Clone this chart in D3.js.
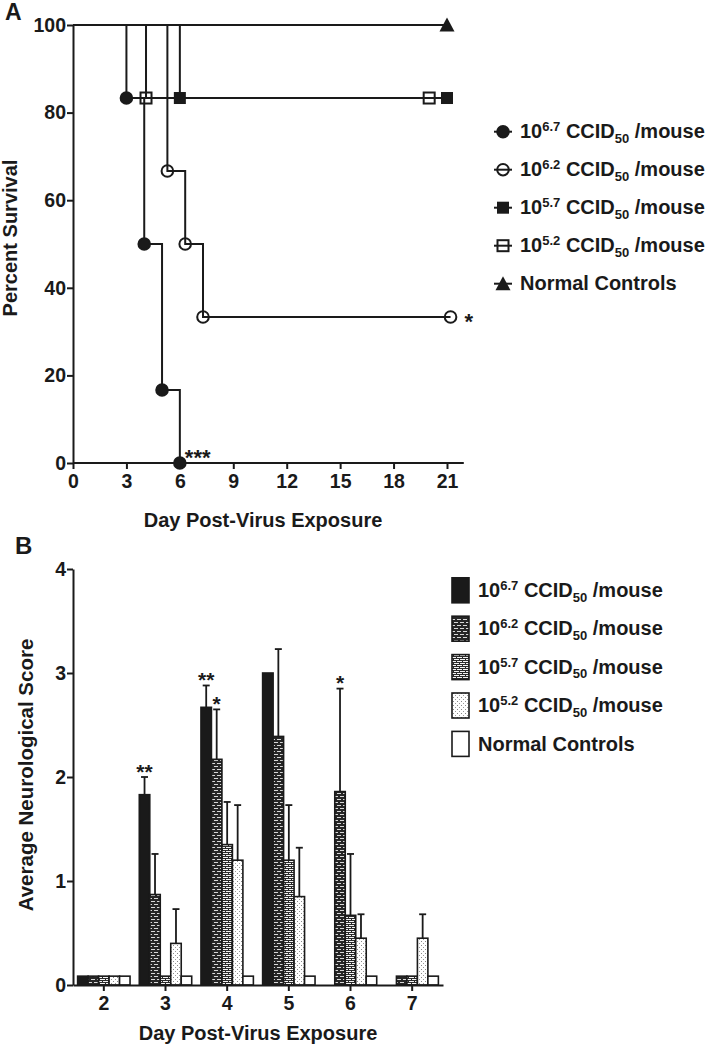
<!DOCTYPE html>
<html><head><meta charset="utf-8">
<script src="https://cdn.jsdelivr.net/npm/d3@7"></script>
<style>
body{margin:0;background:#fff}
svg{display:block}
text{font-family:"Liberation Sans",Arial,Helvetica,sans-serif;font-weight:bold;fill:#1a1a1a}
</style>
</head><body>
<svg id="chart" width="709" height="1050"></svg>
<script>
// ---------- Panel A: survival ----------
const survLabels = ["6.7","6.2","5.7","5.2","Normal Controls"];
const s67Days = [0,3,4,5,6];        const s67Pct = [100,83.33,50,16.67,0];
const s62Days = [0,5.3,6.3,7.3,21.2]; const s62Pct = [100,66.67,50,33.33,33.33];
const s57Days = [0,6,21];           const s57Pct = [100,83.33,83.33];
const s52Days = [0,4.1,20];         const s52Pct = [100,83.33,83.33];
const ctlDays = [0,21];             const ctlPct = [100,100];
const survXTicks = [0,3,6,9,12,15,18,21];
const survYTicks = [0,20,40,60,80,100];

// ---------- Panel B: neurological score ----------
const days = ["2","3","4","5","6","7"];
const barSeries = ["6.7","6.2","5.7","5.2","Normal Controls"];
const mean67 = [0.085,1.83,2.67,3.00,null,null];
const sd67   = [0,0.17,0.21,0,0,0];
const mean62 = [0.085,0.87,2.17,2.39,1.86,0.085];
const sd62   = [0,0.39,0.48,0.84,0.99,0];
const mean57 = [0.085,0.085,1.35,1.20,0.67,0.085];
const sd57   = [0,0,0.41,0.53,0.59,0];
const mean52 = [0.085,0.40,1.20,0.85,0.45,0.45];
const sd52   = [0,0.33,0.53,0.47,0.23,0.23];
const meanCtl= [0.085,0.085,0.085,0.085,0.085,0.085];
const sdCtl  = [0,0,0,0,0,0];
const scoreTicks = [0,1,2,3,4];
// significance marks: [dayIndex, seriesIndex, text]
const sigMarks = [[1,0,"**"],[2,0,"**"],[2,1,"*"],[4,1,"*"]];

const svg = d3.select("#chart");
const ink = "#1a1a1a";

// patterns
const defs = svg.append("defs");
const p62 = defs.append("pattern").attr("id","p62").attr("patternUnits","userSpaceOnUse").attr("width",6).attr("height",6);
p62.append("rect").attr("width",6).attr("height",6).attr("fill","#262626");
p62.append("rect").attr("x",1).attr("y",1).attr("width",4).attr("height",1).attr("fill","#d8d8d8");
p62.append("rect").attr("x",4).attr("y",4).attr("width",2).attr("height",1).attr("fill","#d8d8d8");
p62.append("rect").attr("x",0).attr("y",4).attr("width",2).attr("height",1).attr("fill","#d8d8d8");
const p57 = defs.append("pattern").attr("id","p57").attr("patternUnits","userSpaceOnUse").attr("width",6).attr("height",4);
p57.append("rect").attr("width",6).attr("height",4).attr("fill","#f4f4f4");
p57.append("rect").attr("x",0).attr("y",0).attr("width",6).attr("height",1).attr("fill","#2a2a2a");
p57.append("rect").attr("x",0).attr("y",2).attr("width",6).attr("height",1).attr("fill","#2a2a2a");
p57.append("rect").attr("x",0).attr("y",0).attr("width",1).attr("height",2).attr("fill","#2a2a2a");
p57.append("rect").attr("x",3).attr("y",2).attr("width",1).attr("height",2).attr("fill","#2a2a2a");
const p52 = defs.append("pattern").attr("id","p52").attr("patternUnits","userSpaceOnUse").attr("width",4).attr("height",4);
p52.append("rect").attr("width",4).attr("height",4).attr("fill","#fff");
p52.append("rect").attr("x",1).attr("y",1).attr("width",1).attr("height",1).attr("fill","#888");
p52.append("rect").attr("x",3).attr("y",3).attr("width",1).attr("height",1).attr("fill","#999");
const barFills = ["#1a1a1a","url(#p62)","url(#p57)","url(#p52)","#fff"];

function legendText(sel, sup){
  if(sup===null){ sel.text("Normal Controls"); return; }
  sel.append("tspan").text("10");
  sel.append("tspan").attr("dy",-7).attr("font-size",13).text(sup);
  sel.append("tspan").attr("dy",7).text(" CCID");
  sel.append("tspan").attr("dy",4.5).attr("font-size",13).text("50");
  sel.append("tspan").attr("dy",-4.5).text(" /mouse");
}

// ======== Panel A ========
const xA = d3.scaleLinear().domain([0,22]).range([73,464.8]);
const yA = d3.scaleLinear().domain([0,100]).range([463,25]);
const gA = svg.append("g");

gA.append("text").attr("x",5).attr("y",20).attr("font-size",23).text("A");

const axXA = gA.append("g").attr("transform",`translate(0,${yA(0)})`)
  .call(d3.axisBottom(xA).tickValues(survXTicks).tickSize(6).tickPadding(5).tickSizeOuter(0));
const axYA = gA.append("g").attr("transform",`translate(${xA(0)},0)`)
  .call(d3.axisLeft(yA).tickValues(survYTicks).tickSize(6).tickPadding(1).tickSizeOuter(0));
[axXA,axYA].forEach(a=>{
  a.select(".domain").attr("stroke",ink).attr("stroke-width",2);
  a.selectAll(".tick line").attr("stroke",ink).attr("stroke-width",2);
  a.selectAll(".tick text").attr("font-size",19.5).attr("fill",ink).attr("font-family",null);
});
axXA.select(".domain").attr("d",`M${xA(0)},0H${xA(22)-1}`);

gA.append("text").attr("transform","translate(17,238) rotate(-90)").attr("text-anchor","middle").attr("font-size",20).text("Percent Survival");
gA.append("text").attr("x",263).attr("y",527).attr("text-anchor","middle").attr("font-size",20).text("Day Post-Virus Exposure");

const survData = [
  {d:s67Days,p:s67Pct,sym:"circle",fill:true},
  {d:s62Days,p:s62Pct,sym:"circle",fill:false},
  {d:s57Days,p:s57Pct,sym:"square",fill:true},
  {d:s52Days,p:s52Pct,sym:"square",fill:false},
  {d:ctlDays,p:ctlPct,sym:"triangle",fill:true}
];
const stepLine = d3.line().x(d=>xA(d[0])).y(d=>yA(d[1])).curve(d3.curveStepAfter);
survData.forEach(s=>{
  const pts = s.d.map((v,i)=>[v,s.p[i]]);
  gA.append("path").attr("d",stepLine(pts)).attr("fill","none").attr("stroke",ink).attr("stroke-width",2);
});
function drawSym(g, sym, fill, x, y){
  if(sym==="circle"){
    g.append("circle").attr("cx",x).attr("cy",y).attr("r",5.8)
      .attr("fill",fill?ink:"none").attr("stroke",ink).attr("stroke-width",2);
  } else if(sym==="square"){
    const s = fill?12:11;
    g.append("rect").attr("x",x-s/2).attr("y",y-s/2).attr("width",s).attr("height",s)
      .attr("fill",fill?ink:"none").attr("stroke",fill?"none":ink).attr("stroke-width",2);
  } else {
    g.append("path").attr("d",`M${x},${y-7.5}L${x+7.5},${y+6.5}L${x-7.5},${y+6.5}Z`).attr("fill",ink);
  }
}
survData.forEach(s=>{
  s.d.forEach((v,i)=>{ if(i>0) drawSym(gA,s.sym,s.fill,xA(v),yA(s.p[i])); });
});
// significance
gA.append("text").attr("x",xA(6)+5).attr("y",yA(0)+1.5).attr("font-size",22).text("***");
gA.append("text").attr("x",xA(s62Days[4])+14).attr("y",yA(s62Pct[4])+12).attr("font-size",22).text("*");

// legend A
survData.forEach((s,i)=>{
  const cy = 131.7 + i*38;
  gA.append("line").attr("x1",494).attr("x2",512).attr("y1",cy).attr("y2",cy).attr("stroke",ink).attr("stroke-width",2);
  drawSym(gA,s.sym,s.fill,503,cy);
  const t = gA.append("text").attr("x",520).attr("y",cy+6.7).attr("font-size",20);
  legendText(t, i<4?survLabels[i]:null);
});

// ======== Panel B ========
const x0 = d3.scaleBand().domain(days).range([73,443]).paddingInner(0.15).paddingOuter(0.075);
const x1 = d3.scaleBand().domain(barSeries).range([0,x0.bandwidth()]);
const yB = d3.scaleLinear().domain([0,4]).range([985,569]);
const gB = svg.append("g");

gB.append("text").attr("x",15).attr("y",554).attr("font-size",24).text("B");

const means = [mean67,mean62,mean57,mean52,meanCtl];
const sds = [sd67,sd62,sd57,sd52,sdCtl];

days.forEach((d,di)=>{
  barSeries.forEach((s,si)=>{
    const m = means[si][di];
    if(m===null) return;
    const bx = x0(d)+x1(s);
    gB.append("rect").attr("x",bx).attr("y",yB(m)).attr("width",x1.bandwidth()).attr("height",yB(0)-yB(m))
      .attr("fill",barFills[si]).attr("stroke",ink).attr("stroke-width",1.6);
  });
});
// error bars
days.forEach((d,di)=>{
  barSeries.forEach((s,si)=>{
    const m = means[si][di], sd = sds[si][di];
    if(m===null || !sd) return;
    const cx = x0(d)+x1(s)+x1.bandwidth()/2;
    const top = yB(m+sd);
    gB.append("line").attr("x1",cx).attr("x2",cx).attr("y1",yB(m)).attr("y2",top).attr("stroke",ink).attr("stroke-width",1.8);
    gB.append("line").attr("x1",cx-3.5).attr("x2",cx+3.5).attr("y1",top).attr("y2",top).attr("stroke",ink).attr("stroke-width",1.8);
  });
});
sigMarks.forEach(([di,si,txt])=>{
  const cx = x0(days[di])+x1(barSeries[si])+x1.bandwidth()/2;
  gB.append("text").attr("x",cx).attr("y",yB(means[si][di]+sds[si][di])+1.5).attr("text-anchor","middle").attr("font-size",21).text(txt);
});

const axXB = gB.append("g").attr("transform",`translate(0,${yB(0)})`)
  .call(d3.axisBottom(x0).tickSize(6).tickPadding(5).tickSizeOuter(0));
const axYB = gB.append("g").attr("transform",`translate(73,0)`)
  .call(d3.axisLeft(yB).tickValues(scoreTicks).tickFormat(d3.format("d")).tickSize(6).tickPadding(1).tickSizeOuter(0));
[axXB,axYB].forEach(a=>{
  a.select(".domain").attr("stroke",ink).attr("stroke-width",2);
  a.selectAll(".tick line").attr("stroke",ink).attr("stroke-width",2);
  a.selectAll(".tick text").attr("font-size",19.5).attr("fill",ink).attr("font-family",null);
});

gB.append("text").attr("transform","translate(33,775) rotate(-90)").attr("text-anchor","middle").attr("font-size",20.5).text("Average Neurological Score");
gB.append("text").attr("x",258).attr("y",1040).attr("text-anchor","middle").attr("font-size",20).text("Day Post-Virus Exposure");

// legend B
barSeries.forEach((s,i)=>{
  const cy = 590.3 + i*38.4;
  gB.append("rect").attr("x",452).attr("y",cy-12.5).attr("width",17).attr("height",25)
    .attr("fill",barFills[i]).attr("stroke",ink).attr("stroke-width",1.6);
  const t = gB.append("text").attr("x",478).attr("y",cy+6.7).attr("font-size",20);
  legendText(t, i<4?s:null);
});
</script>
</body></html>
